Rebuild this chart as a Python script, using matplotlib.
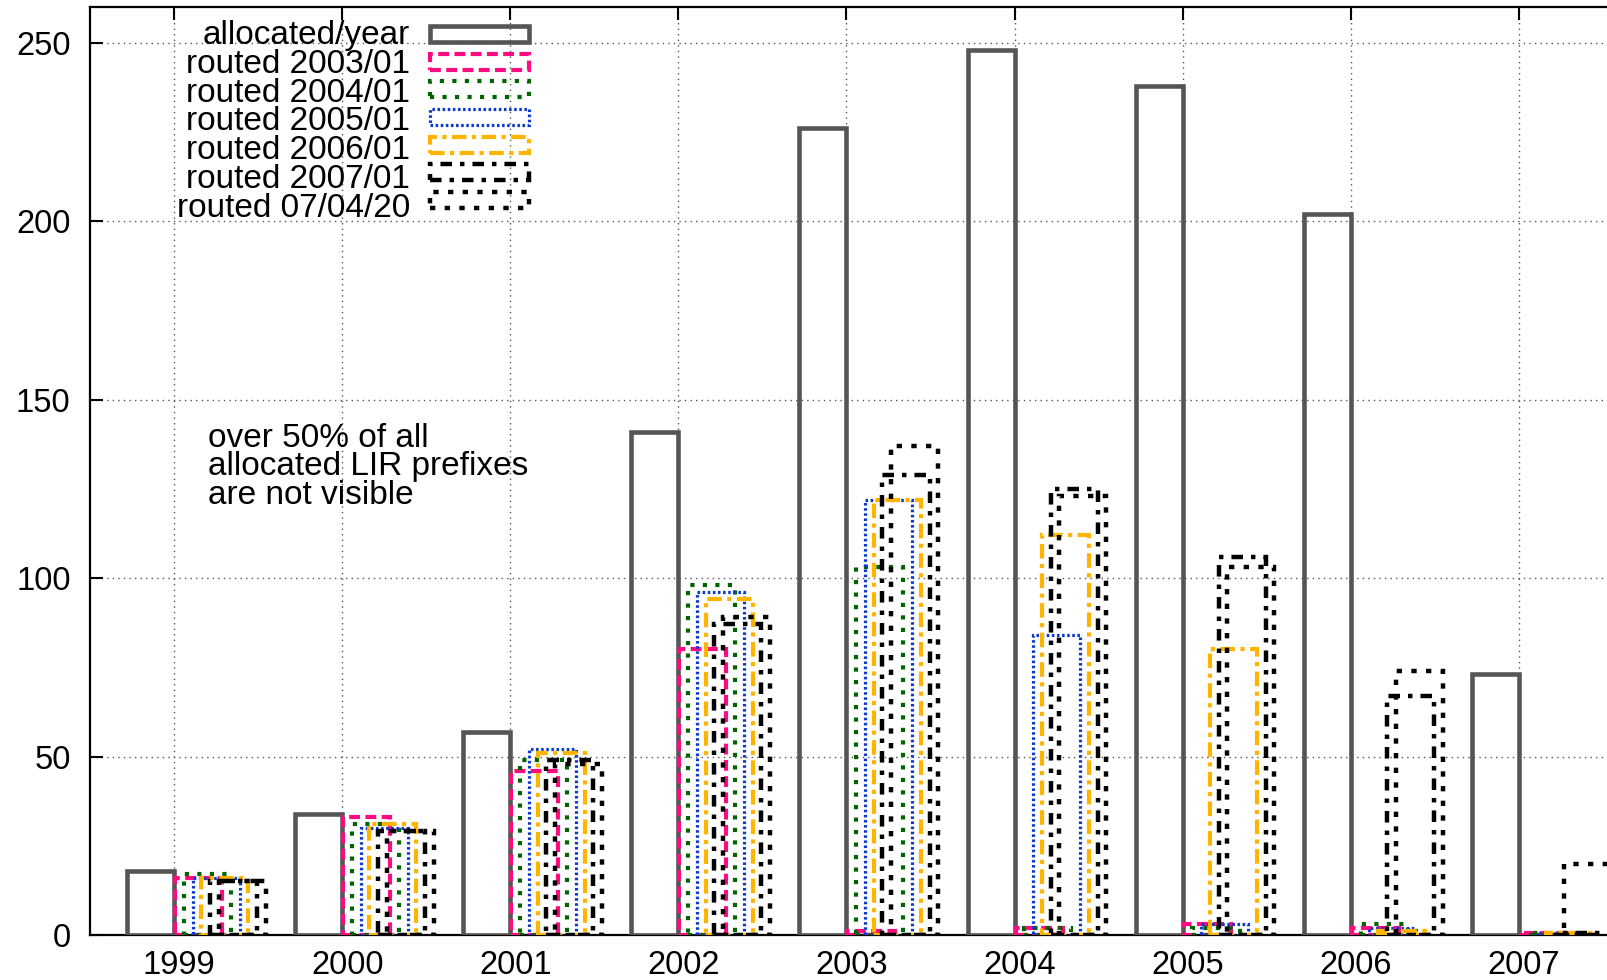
import matplotlib
matplotlib.use("Agg")
import matplotlib.pyplot as plt
import matplotlib.transforms as mtransforms
from matplotlib.patches import Rectangle
import numpy as np

plt.rcParams["font.family"] = ["Liberation Sans", "DejaVu Sans"]

years = [1999, 2000, 2001, 2002, 2003, 2004, 2005, 2006, 2007]
allocated = [18, 34, 57, 141, 226, 248, 238, 202, 73]
routed_2003_01 = [16, 33, 46, 80, 1, 2, 3, 2, 0.5]
routed_2004_01 = [17, 31, 49, 98, 103, 2, 2, 3, 0.5]
routed_2005_01 = [16, 30, 52, 96, 122, 84, 3, 2, 0.5]
routed_2006_01 = [16, 31, 51, 94, 122, 112, 80, 1, 0.5]
routed_2007_01 = [15, 29, 49, 87, 129, 125, 106, 67, 0.5]
routed_070420 = [15, 29, 48, 89, 137, 123, 103, 74, 20]

labels = ["allocated/year", "routed 2003/01", "routed 2004/01", "routed 2005/01",
          "routed 2006/01", "routed 2007/01", "routed 07/04/20"]
note_lines = ["over 50% of all", "allocated LIR prefixes", "are not visible"]

routed = [routed_2003_01, routed_2004_01, routed_2005_01,
          routed_2006_01, routed_2007_01, routed_070420]
colors = ["#ff0a80", "#006400", "#0a3ad0", "#ffb400", "black", "black"]
styles = [(0, (2.6, 1.3)), (0, (1, 2)), (0, (0.8, 0.8)),
          (0, (3.5, 1.3, 1, 1.3)), (0, (2.6, 1.8, 1, 1.8)), (0, (1.2, 2.1))]
widths = [3.0, 3.0, 2.3, 3.0, 3.2, 3.2]

fig = plt.figure(figsize=(16.07, 9.8), dpi=100)
ax = fig.add_axes([90 / 1607, 45 / 980, 1517 / 1607, 928 / 980])

x = np.array(years, dtype=float)
bw = 0.28
ax.bar(x - bw / 2, allocated, width=bw, fill=False, edgecolor="#555555",
       linewidth=3.3, zorder=3)
for i, vals in enumerate(routed):
    ax.bar(x + 0.006 + 0.052 * i + bw / 2, vals, width=bw, fill=False,
           edgecolor=colors[i], linestyle=styles[i], linewidth=widths[i], zorder=3)

ax.set_xlim(1998.5, 2007.524)
ax.set_ylim(0, 260)
ax.set_xticks(years)
ax.set_yticks([0, 50, 100, 150, 200, 250])
ax.grid(True, linestyle=(0, (1, 3)), color="#555555", linewidth=1.0)
ax.tick_params(direction="in", length=9, width=1.5, labelsize=23.5,
               top=True, right=False)
ax.tick_params(axis="x", pad=11)
ax.tick_params(axis="y", pad=14)
for s in ["left", "top", "bottom"]:
    ax.spines[s].set_linewidth(1.6)
ax.spines["right"].set_visible(False)

# year labels sit slightly right of their ticks in the original
shift = mtransforms.ScaledTranslation(0.05, 0, fig.dpi_scale_trans)
for lab in ax.get_xticklabels():
    lab.set_transform(lab.get_transform() + shift)

# legend drawn by hand: right aligned labels, boxes on the right
row_y = [34, 62, 89, 117, 145, 172, 200]
leg_colors = ["#555555"] + colors
leg_styles = ["solid"] + styles
leg_widths = [3.3] + widths
ax.text(0.211, (935 - 122) / 928, "\n".join(labels), transform=ax.transAxes,
        ha="right", va="center", multialignment="right", fontsize=24,
        linespacing=0.915)
for k in range(len(labels)):
    yc = (935 - row_y[k]) / 928
    ax.add_patch(Rectangle((0.2241, yc - 0.0081), 0.0653, 0.0162,
                           transform=ax.transAxes, fill=False,
                           edgecolor=leg_colors[k], linestyle=leg_styles[k],
                           linewidth=leg_widths[k], zorder=5, clip_on=False))

ax.text(0.0778, (935 - 467) / 928, "\n".join(note_lines), transform=ax.transAxes,
        ha="left", va="center", fontsize=24, linespacing=0.915)

fig.savefig("out.png", dpi=100)
